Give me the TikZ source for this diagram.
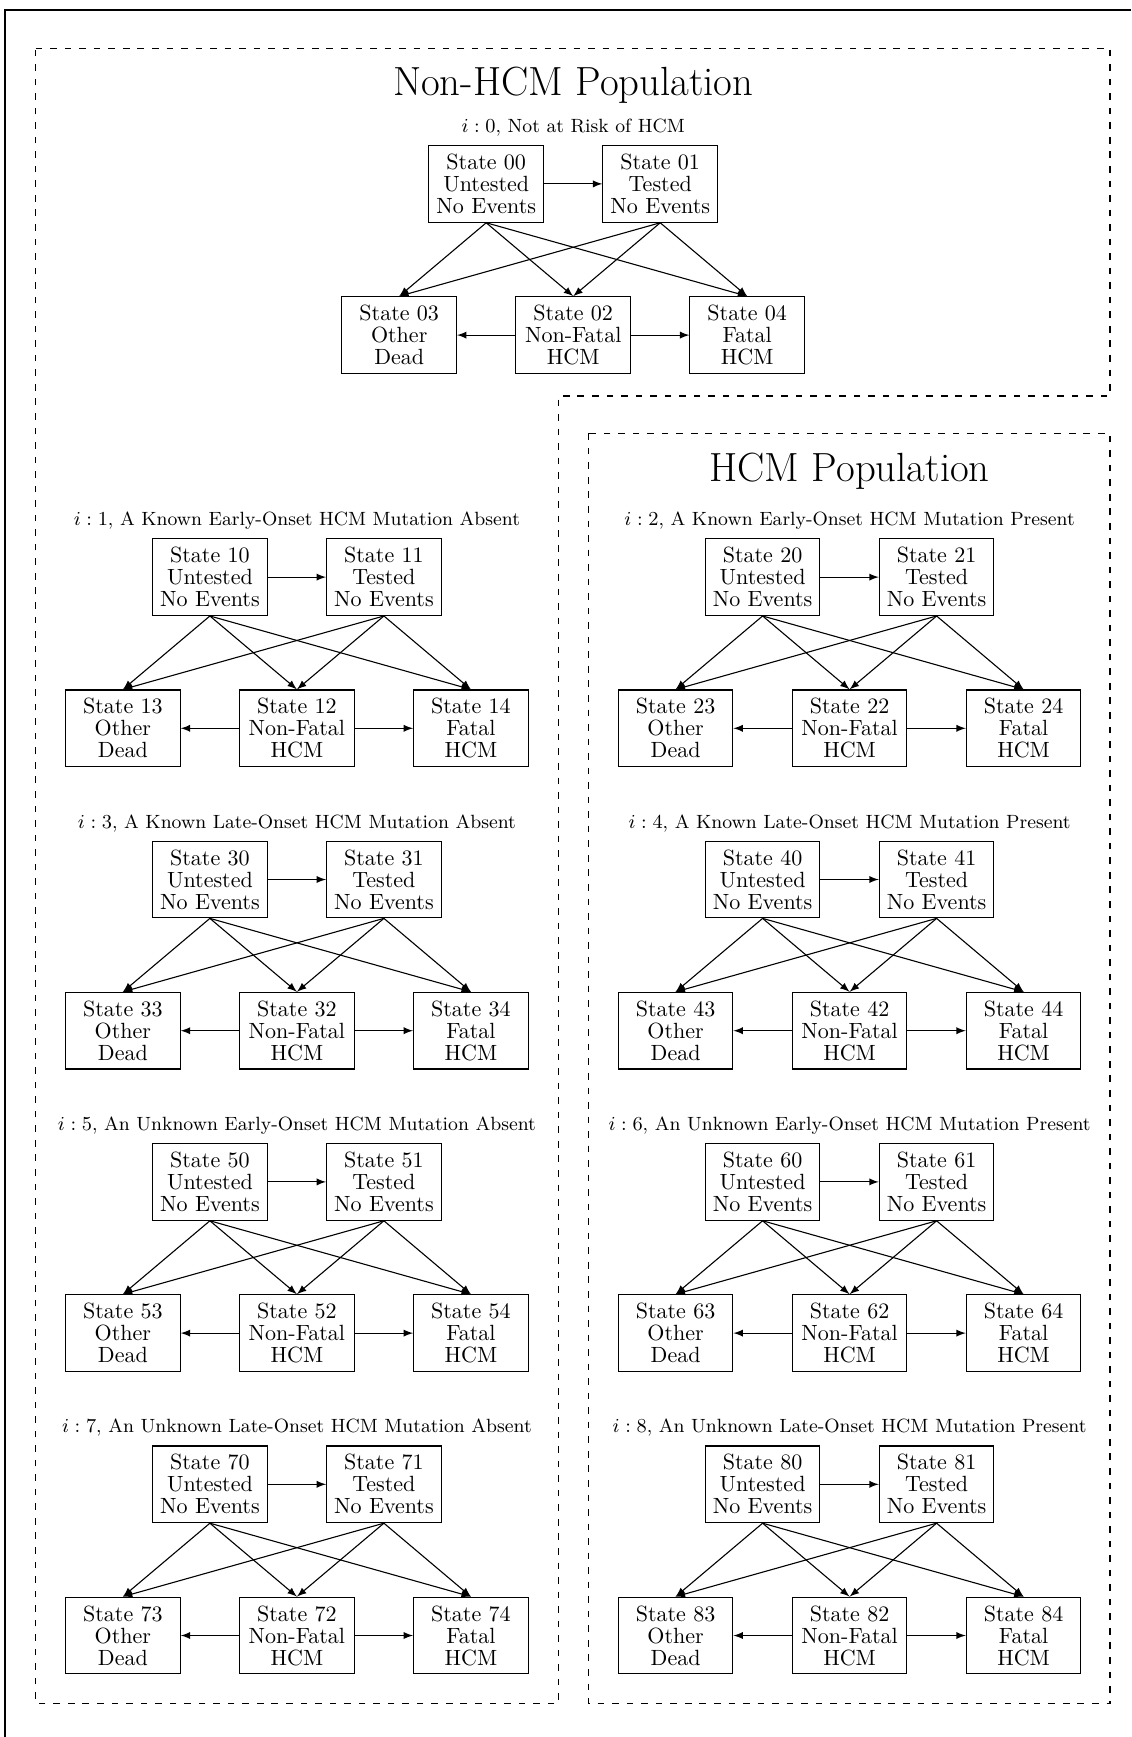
\documentclass[tikz,border=0pt]{standalone}
\usetikzlibrary{arrows}

\tikzset{
  statebox/.style={draw, line width=0.5pt, minimum width=52pt, minimum height=34.8pt,
    inner sep=0pt, align=center, font=\fontsize{10}{10}\selectfont},
  blockcaption/.style={font=\fontsize{8.7}{10}\selectfont, inner sep=0pt},
  poptitle/.style={font=\fontsize{18.5}{22}\selectfont, inner sep=0pt},
  flow/.style={-latex, line width=0.5pt},
  popframe/.style={line width=0.5pt, dash pattern=on 3pt off 3.6pt},
  outerframe/.style={line width=0.8pt}
}

% One Markov block: #1 = index i, #2 = centre x, #3 = y of the top row, #4 = caption
\newcommand{\markovblock}[4]{%
  \node[blockcaption] (cap#1) at (#2,#3-56.5) {$i:#1$, #4};
  \node[statebox] (s#10) at (#2-87,#3) {State #10\\Untested\\No Events};
  \node[statebox] (s#11) at (#2+87,#3) {State #11\\Tested\\No Events};
  \node[statebox] (s#13) at (#2-174,#3+151.2) {State #13\\Other\\Dead};
  \node[statebox] (s#12) at (#2,#3+151.2) {State #12\\Non-Fatal\\HCM};
  \node[statebox] (s#14) at (#2+174,#3+151.2) {State #14\\Fatal\\HCM};
  \draw[flow] (s#10) -- (s#11);
  \draw[flow] (s#12) -- (s#13);
  \draw[flow] (s#12) -- (s#14);
  \foreach \t in {0,1}{
    \foreach \b in {3,2,4}{
      \draw[flow] (s#1\t.south) -- (s#1\b.north);
    }
  }
}

\begin{document}
\begin{tikzpicture}[x=0.454pt,y=-0.454pt]
  \useasboundingbox (0,0) rectangle (1131,1737);

  % page frame
  \draw[outerframe] (5.3,1737) -- (5.3,9.7) -- (1131,9.7);

  % population regions
  \draw[popframe] (35.7,48.2) -- (1110,48.2) -- (1110,396) -- (558.5,396)
    -- (558.5,1703.7) -- (35.7,1703.7) -- cycle;
  \draw[popframe] (588.8,433.3) rectangle (1110,1703.7);

  \node[poptitle] (nonhcm) at (573.2,85) {Non-HCM Population};
  \node[poptitle] (hcm) at (849.6,470.8) {HCM Population};

  \markovblock{0}{573.2}{183.9}{Not at Risk of HCM}
  \markovblock{1}{296.9}{577.1}{A Known Early-Onset HCM Mutation Absent}
  \markovblock{2}{849.6}{577.1}{A Known Early-Onset HCM Mutation Present}
  \markovblock{3}{296.9}{879.5}{A Known Late-Onset HCM Mutation Absent}
  \markovblock{4}{849.6}{879.5}{A Known Late-Onset HCM Mutation Present}
  \markovblock{5}{296.9}{1181.9}{An Unknown Early-Onset HCM Mutation Absent}
  \markovblock{6}{849.6}{1181.9}{An Unknown Early-Onset HCM Mutation Present}
  \markovblock{7}{296.9}{1484.3}{An Unknown Late-Onset HCM Mutation Absent}
  \markovblock{8}{849.6}{1484.3}{An Unknown Late-Onset HCM Mutation Present}
\end{tikzpicture}
\end{document}
